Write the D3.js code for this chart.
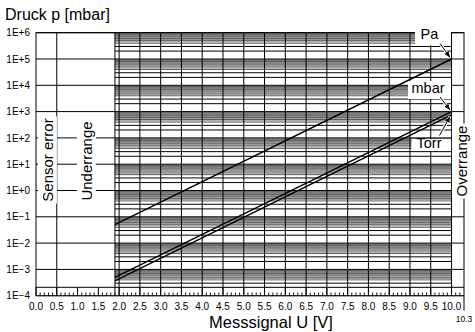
<!DOCTYPE html>
<html><head><meta charset="utf-8">
<script src="https://cdn.jsdelivr.net/npm/d3@7"></script>
<style>body{margin:0;background:#fff} svg{display:block} text{font-family:"Liberation Sans",Arial,Helvetica,sans-serif;fill:#000}</style>
</head><body><svg id="c" width="475" height="332"></svg>
<script>
// ---- data ----
const voltTickValues = [0.0,0.5,1.0,1.5,2.0,2.5,3.0,3.5,4.0,4.5,5.0,5.5,6.0,6.5,7.0,7.5,8.0,8.5,9.0,9.5,10.0];
const voltTickLabels = ["0.0","0.5","1.0","1.5","2.0","2.5","3.0","3.5","4.0","4.5","5.0","5.5","6.0","6.5","7.0","7.5","8.0","8.5","9.0","9.5","10.0"];
const decadeValues = [1e-4,1e-3,1e-2,1e-1,1e0,1e1,1e2,1e3,1e4,1e5,1e6];
const decadeLabels = ["1E−4","1E−3","1E−2","1E−1","1E+0","1E+1","1E+2","1E+3","1E+4","1E+5","1E+6"];
const blackMantissas = [2,3];
const grayMantissas = [4,5,6,7,8,9];
const lightMantissas = [4.5,5.5,6.5,7.5,8.5,9.5];
const regionBounds = {sensorErrorEnd:0.5, underrangeEnd:1.9, measureEnd:10.0, axisMax:10.3};
const lineVolts = [1.9, 10.0];
const paValues   = [0.05, 1e5];
const mbarValues = [5.0e-4, 1000];
const torrValues = [3.7e-4, 750];
const unitLabels = ["Pa","mbar","Torr"];

// ---- scales ----
const L = 36, R = 464, T = 32.7, B = 295.7;
const x = d3.scaleLinear().domain([0, regionBounds.axisMax]).range([L, R]);
const y = d3.scaleLog().domain([1e-4, 1e6]).range([B, T]);
const svg = d3.select("#c");
svg.append("rect").attr("width",475).attr("height",332).attr("fill","#fff");

const g = svg.append("g");
const blackVals = [], grayVals = [], lightVals = [];
decadeValues.slice(0,-1).forEach(d => {
  blackMantissas.forEach(m => blackVals.push(d*m));
  grayMantissas.forEach(m => grayVals.push(d*m));
  lightMantissas.forEach(m => lightVals.push(d*m));
});
const hLines = (cls, vals, col) => g.selectAll("line."+cls).data(vals).join("line").attr("class",cls)
  .attr("x1", x(regionBounds.underrangeEnd)).attr("x2", x(regionBounds.measureEnd))
  .attr("y1", d=>y(d)).attr("y2", d=>y(d)).attr("stroke",col).attr("stroke-width",1);
hLines("hl", lightVals, "#9a9a9a");
hLines("hg", grayVals, "#5a5a5a");
hLines("hb", blackVals, "#000");
g.selectAll("line.dec").data(decadeValues).join("line").attr("class","dec")
  .attr("x1", L).attr("x2", R).attr("y1", d=>y(d)).attr("y2", d=>y(d))
  .attr("stroke","#000").attr("stroke-width",1);

// tick strip
const stripTop = B - 8.4;
g.append("rect").attr("x",L).attr("y",stripTop).attr("width",R-L).attr("height",B-stripTop).attr("fill","#fff");
g.append("line").attr("x1",L).attr("x2",R).attr("y1",stripTop).attr("y2",stripTop).attr("stroke","#000");
const minorTicks = d3.range(0, 103).map(i => i/10).filter(v => Math.abs(v*2 - Math.round(v*2)) > 1e-6);
g.selectAll("line.mt").data(minorTicks).join("line").attr("class","mt")
  .attr("x1", d=>x(d)).attr("x2", d=>x(d)).attr("y1", B-3.2).attr("y2", B)
  .attr("stroke","#000").attr("stroke-width",0.9);
g.selectAll("line.Mt").data(voltTickValues).join("line").attr("class","Mt")
  .attr("x1", d=>x(d)).attr("x2", d=>x(d)).attr("y1", stripTop).attr("y2", B)
  .attr("stroke","#000");

const gridV = voltTickValues.filter(v => v >= 2.0);
g.selectAll("line.v").data(gridV.concat([regionBounds.sensorErrorEnd, regionBounds.underrangeEnd])).join("line").attr("class","v")
  .attr("x1", d=>x(d)).attr("x2", d=>x(d)).attr("y1", T).attr("y2", B)
  .attr("stroke","#000").attr("stroke-width",1);

g.append("rect").attr("x",L).attr("y",T).attr("width",R-L).attr("height",B-T)
  .attr("fill","none").attr("stroke","#000").attr("stroke-width",1);
g.append("line").attr("x1",x(regionBounds.axisMax)).attr("x2",x(regionBounds.axisMax))
  .attr("y1",B).attr("y2",B+15).attr("stroke","#000");

// data lines
const lineGen = d3.line().x(d=>x(d[0])).y(d=>y(d[1]));
[paValues, mbarValues, torrValues].forEach(vals => {
  g.append("path").attr("d", lineGen(lineVolts.map((u,i)=>[u, vals[i]])))
   .attr("fill","none").attr("stroke","#000").attr("stroke-width",1.4);
});

// axis labels
svg.selectAll("text.yl").data(decadeValues).join("text").attr("class","yl")
  .attr("x", 30).attr("y", d=>y(d)).attr("dy","0.36em").attr("text-anchor","end")
  .attr("font-size",10).text((d,i)=>decadeLabels[i]);
svg.selectAll("text.xl").data(voltTickValues).join("text").attr("class","xl")
  .attr("x", d=>x(d)).attr("y", 310).attr("text-anchor","middle")
  .attr("font-size",10).text((d,i)=>voltTickLabels[i]);
svg.append("text").attr("x", x(regionBounds.axisMax)).attr("y", 322).attr("text-anchor","middle")
  .attr("font-size",8.5).text("10.3");
svg.append("text").attr("x",5).attr("y",20).attr("font-size",16).text("Druck p [mbar]");
svg.append("text").attr("x",271).attr("y",328).attr("text-anchor","middle").attr("font-size",16.5).text("Messsignal U [V]");

function rotLabel(cx, cy, txt){
  const gg = svg.append("g").attr("transform",`translate(${cx},${cy}) rotate(-90)`);
  const bg = gg.append("rect").attr("fill","#fff");
  const t = gg.append("text").attr("text-anchor","middle").attr("dy","0.36em").attr("font-size",15).text(txt);
  const bb = t.node().getBBox();
  bg.attr("x",bb.x-2).attr("y",bb.y-1).attr("width",bb.width+4).attr("height",bb.height+2);
}
rotLabel(47.5, 160, "Sensor error");
rotLabel(86.5, 161, "Underrange");
rotLabel(461.5, 161, "Overrange");

const endU = lineVolts[1];
const ends = [paValues[1], mbarValues[1], torrValues[1]];
const labelCfg = [
  {box:[415,26,451,45.5], tx:420.5, ty:38.8, from:[440,43.5]},
  {box:[408,81,451,99], tx:411.5, ty:92.8, from:[440,97]},
  {box:[411.5,139,451,151], tx:416.5, ty:148.4, from:[439.5,135.5]}
];
svg.append("defs").append("marker").attr("id","ah").attr("viewBox","0 0 10 10")
  .attr("refX",10).attr("refY",5).attr("markerWidth",6).attr("markerHeight",6).attr("orient","auto")
  .append("path").attr("d","M0,1 L10,5 L0,9 Z").attr("fill","#000");
labelCfg.forEach((c,i) => {
  svg.append("rect").attr("x",c.box[0]).attr("y",c.box[1]).attr("width",c.box[2]-c.box[0]).attr("height",c.box[3]-c.box[1]).attr("fill","#fff");
  svg.append("text").attr("x",c.tx).attr("y",c.ty).attr("font-size",14.5).text(unitLabels[i]);
  const ex = x(endU) - 1.5, ey = y(ends[i]) + (i===2 ? 1.5 : -1.5);
  svg.append("line").attr("x1",c.from[0]).attr("y1",c.from[1]).attr("x2",ex).attr("y2",ey)
    .attr("stroke","#fff").attr("stroke-width",3);
  svg.append("line").attr("x1",c.from[0]).attr("y1",c.from[1]).attr("x2",ex).attr("y2",ey)
    .attr("stroke","#000").attr("stroke-width",1).attr("marker-end","url(#ah)");
});
</script></body></html>
